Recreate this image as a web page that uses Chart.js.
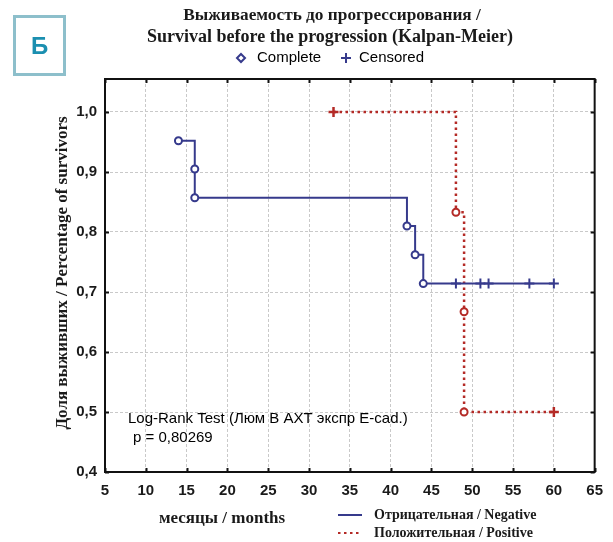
<!DOCTYPE html>
<html>
<head>
<meta charset="utf-8">
<script src="https://cdn.jsdelivr.net/npm/chart.js@4/dist/chart.umd.min.js"></script>
<style>
  html, body { margin: 0; padding: 0; background: #fff; }
  #wrap { width: 613px; height: 542px; position: relative; }
</style>
</head>
<body>
<div id="wrap"><canvas id="km" width="613" height="542"></canvas></div>
<script>
// Kaplan–Meier: survival before progression, E-cadherin negative vs positive
const negEventMonths      = [14, 16, 16, 42, 43, 44];
const negEventSurvival    = [0.952, 0.905, 0.857, 0.810, 0.762, 0.714];
const negCensoredMonths   = [48, 51, 52, 57, 60];
const negCensoredSurvival = [0.714, 0.714, 0.714, 0.714, 0.714];

const posEventMonths      = [48, 49, 49];
const posEventSurvival    = [0.833, 0.667, 0.5];
const posCensoredMonths   = [33, 60];
const posCensoredSurvival = [1.0, 0.5];

const xTickValues = [5, 10, 15, 20, 25, 30, 35, 40, 45, 50, 55, 60, 65];
const yTickValues = [0.4, 0.5, 0.6, 0.7, 0.8, 0.9, 1.0];

const NEG_COLOR = '#363a8c';
const POS_COLOR = '#b42a26';
const SANS = '"Liberation Sans", Arial, sans-serif';
const SERIF = '"Liberation Serif", "Times New Roman", serif';

const toPoints = (xs, ys) => xs.map((x, i) => ({ x: x, y: ys[i] }));

// step curve passes through every event and censoring time in order
function curvePoints(evX, evY, cX, cY) {
  const pts = toPoints(evX, evY).concat(toPoints(cX, cY));
  return pts.map((p, i) => ({ p, i }))
            .sort((a, b) => a.p.x - b.p.x || a.i - b.i)
            .map(o => o.p);
}

const annotationPlugin = {
  id: 'kmDecor',
  beforeDraw(chart) {
    const c = chart.ctx;
    c.save();
    c.fillStyle = '#ffffff';
    c.fillRect(0, 0, chart.width, chart.height);
    c.restore();
  },
  beforeDatasetsDraw(chart) {
    const c = chart.ctx;
    const a = chart.chartArea;
    const xs = chart.scales.x, ys = chart.scales.y;
    c.save();
    // inward tick marks on all four sides
    c.strokeStyle = '#111';
    c.lineWidth = 2;
    c.beginPath();
    xTickValues.forEach(v => {
      const px = Math.round(xs.getPixelForValue(v)) + 0.5;
      c.moveTo(px, a.bottom); c.lineTo(px, a.bottom - 4);
      c.moveTo(px, a.top);    c.lineTo(px, a.top + 4);
    });
    yTickValues.forEach(v => {
      const py = Math.round(ys.getPixelForValue(v)) + 0.5;
      c.moveTo(a.left, py);  c.lineTo(a.left + 4, py);
      c.moveTo(a.right, py); c.lineTo(a.right - 4, py);
    });
    c.stroke();
    // plot frame
    c.strokeRect(a.left, a.top, a.right - a.left, a.bottom - a.top);
    c.restore();
  },
  afterDraw(chart) {
    const c = chart.ctx;
    c.save();
    c.textBaseline = 'middle';

    // panel letter
    c.strokeStyle = '#8dbfcb';
    c.lineWidth = 3;
    c.strokeRect(14.5, 16.5, 50, 58);
    c.fillStyle = '#1b8fb0';
    c.font = 'bold 24px ' + SANS;
    c.textAlign = 'center';
    c.fillText('Б', 39.5, 47);

    // title
    c.fillStyle = '#1a1a1a';
    c.font = 'bold 17.3px ' + SERIF;
    c.fillText('Выживаемость до прогрессирования /', 332, 16);
    c.font = 'bold 18px ' + SERIF;
    c.fillText('Survival before the progression (Kalpan-Meier)', 330, 37);

    // marker key
    c.strokeStyle = NEG_COLOR;
    c.lineWidth = 2;
    c.beginPath();
    c.moveTo(241, 54); c.lineTo(245, 58); c.lineTo(241, 62); c.lineTo(237, 58); c.closePath();
    c.stroke();
    c.beginPath();
    c.moveTo(341, 58); c.lineTo(351, 58);
    c.moveTo(346, 53); c.lineTo(346, 63);
    c.stroke();
    c.fillStyle = '#000';
    c.font = '15px ' + SANS;
    c.textAlign = 'left';
    c.fillText('Complete', 257, 58);
    c.fillText('Censored', 359, 58);

    // log-rank note
    c.font = '15px ' + SANS;
    c.fillText('Log-Rank Test (Люм В АХТ экспр E-cad.)', 128, 419);
    c.fillText('p = 0,80269', 133, 438);

    // axis titles
    c.fillStyle = '#1a1a1a';
    c.font = 'bold 17px ' + SERIF;
    c.textAlign = 'center';
    c.fillText('месяцы / months', 222, 519);
    c.save();
    c.translate(63, 273);
    c.rotate(-Math.PI / 2);
    c.fillText('Доля выживших / Percentage of survivors', 0, 0);
    c.restore();

    // group key
    c.lineWidth = 2;
    c.strokeStyle = NEG_COLOR;
    c.beginPath(); c.moveTo(338, 515); c.lineTo(362, 515); c.stroke();
    c.strokeStyle = POS_COLOR;
    c.setLineDash([2.5, 3.5]);
    c.beginPath(); c.moveTo(338, 533); c.lineTo(362, 533); c.stroke();
    c.setLineDash([]);
    c.font = 'bold 14px ' + SERIF;
    c.textAlign = 'left';
    c.fillText('Отрицательная / Negative', 374, 515);
    c.fillText('Положительная / Positive', 374, 533);
    c.restore();
  }
};

const ctx = document.getElementById('km').getContext('2d');
new Chart(ctx, {
  type: 'scatter',
  data: {
    datasets: [
      {
        label: 'Negative complete',
        data: toPoints(negEventMonths, negEventSurvival),
        pointStyle: 'circle', pointRadius: 3.5, borderWidth: 2,
        borderColor: NEG_COLOR, backgroundColor: '#fff', order: 0
      },
      {
        label: 'Negative censored',
        data: toPoints(negCensoredMonths, negCensoredSurvival),
        pointStyle: 'cross', pointRadius: 5, borderWidth: 2,
        borderColor: NEG_COLOR, backgroundColor: NEG_COLOR, order: 0
      },
      {
        label: 'Positive complete',
        data: toPoints(posEventMonths, posEventSurvival),
        pointStyle: 'circle', pointRadius: 3.5, borderWidth: 2,
        borderColor: POS_COLOR, backgroundColor: '#fff', order: 0
      },
      {
        label: 'Positive censored',
        data: toPoints(posCensoredMonths, posCensoredSurvival),
        pointStyle: 'cross', pointRadius: 5, borderWidth: 2.5,
        borderColor: POS_COLOR, backgroundColor: POS_COLOR, order: 0
      },
      {
        label: 'Отрицательная / Negative',
        data: curvePoints(negEventMonths, negEventSurvival, negCensoredMonths, negCensoredSurvival),
        showLine: true, stepped: true, pointRadius: 0,
        borderColor: NEG_COLOR, borderWidth: 2, order: 1
      },
      {
        label: 'Положительная / Positive',
        data: curvePoints(posEventMonths, posEventSurvival, posCensoredMonths, posCensoredSurvival),
        showLine: true, stepped: true, pointRadius: 0,
        borderColor: POS_COLOR, borderWidth: 2.5, borderDash: [2.5, 3.5], order: 1
      }
    ]
  },
  options: {
    responsive: false,
    animation: false,
    layout: { padding: { left: 0, right: 17, top: 79, bottom: 40 } },
    plugins: { legend: { display: false }, tooltip: { enabled: false }, title: { display: false } },
    scales: {
      x: {
        type: 'linear', min: 5, max: 65,
        afterBuildTicks: s => { s.ticks = xTickValues.map(v => ({ value: v })); },
        afterFit: s => { s.height = 30; },
        grid: { color: '#c9c9c9', lineWidth: 1, drawTicks: false },
        border: { display: false, dash: [3, 2] },
        ticks: {
          padding: 10, color: '#1a1a1a', maxRotation: 0, autoSkip: false,
          font: { family: SANS, size: 15, weight: 'bold' },
          callback: v => String(v)
        }
      },
      y: {
        type: 'linear', min: 0.4, max: 1.055,
        afterBuildTicks: s => { s.ticks = yTickValues.map(v => ({ value: v })); },
        afterFit: s => { s.width = 105; },
        grid: { color: '#c9c9c9', lineWidth: 1, drawTicks: false },
        border: { display: false, dash: [3, 2] },
        ticks: {
          padding: 8, color: '#1a1a1a', autoSkip: false,
          font: { family: SANS, size: 15, weight: 'bold' },
          callback: v => Number(v).toFixed(1).replace('.', ',')
        }
      }
    }
  },
  plugins: [annotationPlugin]
});
</script>
</body>
</html>
